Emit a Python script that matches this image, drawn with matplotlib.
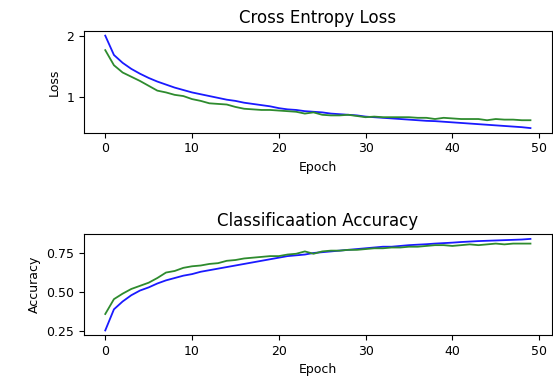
import matplotlib
matplotlib.use("Agg")
import matplotlib.pyplot as plt
import numpy as np

epochs = list(range(50))

train_loss = [2.01, 1.69, 1.56, 1.46, 1.38, 1.31, 1.25, 1.20, 1.15, 1.11,
              1.07, 1.04, 1.01, 0.98, 0.95, 0.93, 0.90, 0.88, 0.86, 0.84,
              0.81, 0.79, 0.78, 0.76, 0.75, 0.74, 0.72, 0.71, 0.70, 0.69,
              0.67, 0.66, 0.65, 0.64, 0.63, 0.62, 0.61, 0.60, 0.595, 0.585,
              0.575, 0.565, 0.555, 0.545, 0.535, 0.525, 0.515, 0.505, 0.495, 0.48]
val_loss = [1.77, 1.52, 1.40, 1.33, 1.26, 1.18, 1.10, 1.07, 1.03, 1.01,
            0.96, 0.93, 0.89, 0.88, 0.87, 0.83, 0.80, 0.79, 0.78, 0.78,
            0.77, 0.76, 0.75, 0.72, 0.74, 0.70, 0.69, 0.69, 0.70, 0.68,
            0.66, 0.67, 0.66, 0.66, 0.66, 0.66, 0.65, 0.65, 0.63, 0.65,
            0.64, 0.63, 0.63, 0.63, 0.61, 0.63, 0.62, 0.62, 0.61, 0.61]

train_acc = [0.255, 0.39, 0.44, 0.48, 0.51, 0.53, 0.555, 0.575, 0.59, 0.605,
             0.615, 0.63, 0.64, 0.65, 0.66, 0.67, 0.68, 0.69, 0.70, 0.71,
             0.72, 0.73, 0.735, 0.74, 0.75, 0.755, 0.76, 0.765, 0.77, 0.775,
             0.78, 0.785, 0.79, 0.79, 0.795, 0.80, 0.803, 0.806, 0.81, 0.813,
             0.816, 0.82, 0.823, 0.826, 0.828, 0.83, 0.832, 0.834, 0.836, 0.84]
val_acc = [0.36, 0.455, 0.49, 0.52, 0.54, 0.56, 0.59, 0.625, 0.635, 0.655,
           0.665, 0.67, 0.68, 0.685, 0.70, 0.705, 0.715, 0.72, 0.725, 0.73,
           0.73, 0.74, 0.745, 0.76, 0.745, 0.76, 0.765, 0.765, 0.77, 0.77,
           0.775, 0.78, 0.78, 0.785, 0.785, 0.79, 0.79, 0.795, 0.80, 0.80,
           0.795, 0.80, 0.805, 0.80, 0.805, 0.81, 0.805, 0.81, 0.81, 0.81]

loss_ticks = [1, 2]
acc_ticks = [0.25, 0.50, 0.75]
acc_tick_labels = ['0.25', '0.50', '0.75']

plt.rcParams['font.size'] = 9
fig = plt.figure(figsize=(5.53, 3.82), dpi=100)
ax1 = fig.add_axes([0.1519, 0.6526, 0.8458, 0.2662])
ax1.set_title('Cross Entropy Loss', fontsize=12)
ax1.plot(epochs, train_loss, color='#1a1aff', lw=1.3, label='train')
ax1.plot(epochs, val_loss, color='#2e8b2e', lw=1.3, label='test')
ax1.set_yticks(loss_ticks)
ax1.set_xlabel('Epoch')
ax1.set_ylabel('Loss')

ax2 = fig.add_axes([0.1519, 0.1230, 0.8458, 0.2636])
ax2.set_title('Classificaation Accuracy', fontsize=12)
ax2.plot(epochs, train_acc, color='#1a1aff', lw=1.3, label='train')
ax2.plot(epochs, val_acc, color='#2e8b2e', lw=1.3, label='test')
ax2.set_yticks(acc_ticks)
ax2.set_yticklabels(acc_tick_labels)
ax2.set_xlabel('Epoch')
ax2.set_ylabel('Accuracy')

fig.savefig('out.png', dpi=100)
